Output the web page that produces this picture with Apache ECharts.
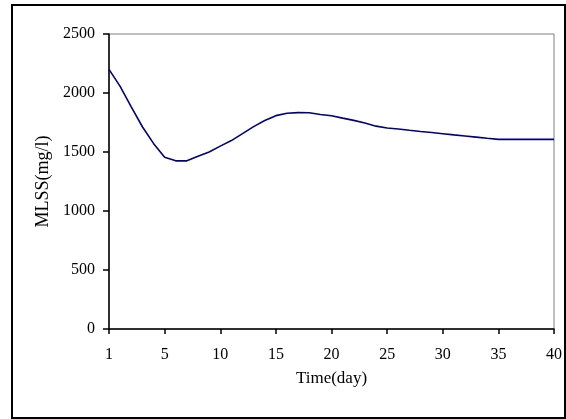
<!DOCTYPE html>
<html>
<head>
<meta charset="utf-8">
<script src="https://cdn.jsdelivr.net/npm/echarts@6/dist/echarts.min.js"></script>
<style>
html,body{margin:0;padding:0;background:#fff;}
#chart{width:566px;height:419px;}
</style>
</head>
<body>
<div id="chart"></div>
<script>
// Tick labels shown on the x axis (evenly spaced in the reference)
const tickLabels = ['1', '5', '10', '15', '20', '25', '30', '35', '40'];
// Sub-steps between consecutive labelled ticks
const stepsPerLabel = 5;
// MLSS (mg/l) read at each sub-step along the x axis
const mlss = [
  2200, 2056, 1882, 1714, 1573, 1455, 1425, 1425, 1463, 1500,
  1550, 1597, 1656, 1715, 1767, 1808, 1828, 1834, 1832, 1818,
  1807, 1787, 1768, 1745, 1719, 1703, 1695, 1684, 1674, 1665,
  1655, 1645, 1636, 1626, 1616, 1607, 1607, 1607, 1607, 1607,
  1607
];
const yTicks = [0, 500, 1000, 1500, 2000, 2500];

const categories = mlss.map((v, i) => (i % stepsPerLabel === 0 ? tickLabels[i / stepsPerLabel] : ''));

const font = 'Liberation Serif';
const chart = echarts.init(document.getElementById('chart'), null, {renderer: 'canvas'});
chart.setOption({
  backgroundColor: '#fff',
  animation: false,
  graphic: [{
    type: 'rect',
    shape: {x: 12, y: 5, width: 553, height: 413},
    style: {fill: 'none', stroke: '#000', lineWidth: 2},
    silent: true
  }],
  grid: {
    left: 109, right: 12, top: 34, bottom: 90,
    show: true, borderColor: '#808080', borderWidth: 1, backgroundColor: 'transparent'
  },
  xAxis: {
    type: 'category',
    data: categories,
    boundaryGap: false,
    name: 'Time(day)',
    nameLocation: 'middle',
    nameGap: 41,
    nameTextStyle: {fontFamily: font, fontSize: 17, color: '#000'},
    axisLine: {lineStyle: {color: '#000', width: 1.5}},
    axisTick: {show: true, interval: stepsPerLabel - 1, length: 5, inside: false, lineStyle: {color: '#000', width: 1.5}},
    axisLabel: {interval: stepsPerLabel - 1, margin: 18, fontFamily: font, fontSize: 16, color: '#000'},
    splitLine: {show: false}
  },
  yAxis: {
    type: 'value',
    min: yTicks[0],
    max: yTicks[yTicks.length - 1],
    interval: yTicks[1] - yTicks[0],
    name: 'MLSS(mg/l)',
    nameLocation: 'middle',
    nameGap: 57,
    nameRotate: 90,
    nameTextStyle: {fontFamily: font, fontSize: 18, color: '#000'},
    axisLine: {show: true, lineStyle: {color: '#000', width: 1.5}},
    axisTick: {show: true, length: 6, lineStyle: {color: '#000', width: 1.5}},
    axisLabel: {margin: 14, fontFamily: font, fontSize: 16, color: '#000', formatter: (v) => String(v)},
    splitLine: {show: false}
  },
  series: [{
    type: 'line',
    data: mlss,
    showSymbol: false,
    symbol: 'none',
    smooth: false,
    lineStyle: {color: '#000080', width: 1.6}
  }]
});
</script>
</body>
</html>
